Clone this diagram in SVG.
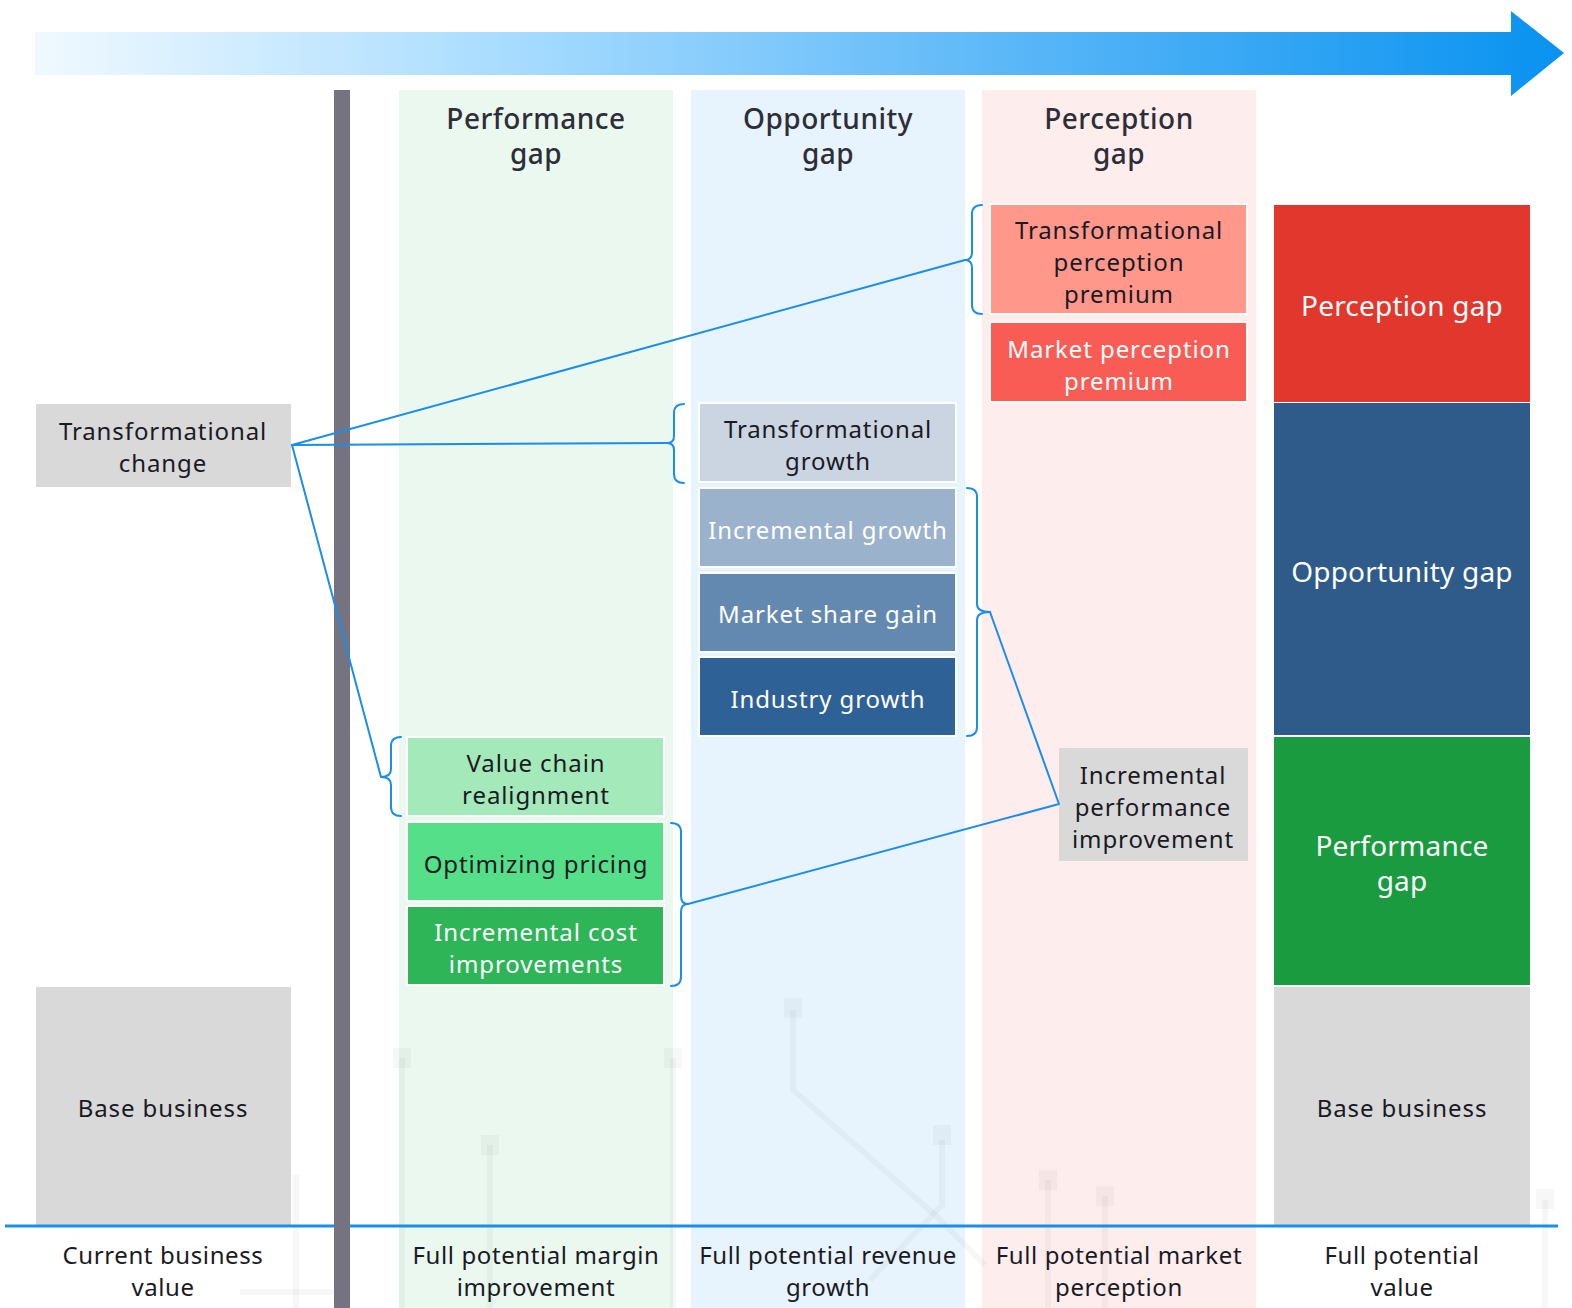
<svg xmlns="http://www.w3.org/2000/svg" width="1572" height="1308" viewBox="0 0 1572 1308">
  <defs>
    <linearGradient id="flowGrad" x1="35" y1="0" x2="1564" y2="0" gradientUnits="userSpaceOnUse">
      <stop offset="0" stop-color="#F0F9FF"/>
      <stop offset="0.3" stop-color="#AADDFF"/>
      <stop offset="0.62" stop-color="#5FB9F8"/>
      <stop offset="1" stop-color="#0892F0"/>
    </linearGradient>
    <style>
      text { font-family: "Noto Sans", "Liberation Sans", sans-serif; text-anchor: middle; letter-spacing: 0.9px; transform: translate(0px, 2px); }
      .t { font-size: 24px; fill: #1A1A24; }
      .w { font-size: 24px; fill: #FFFFFF; }
      .big { font-size: 28px; fill: #FFFFFF; letter-spacing: 0.2px; }
      .hdr { font-size: 28px; fill: #2E2E38; font-weight: 500; letter-spacing: 0.5px; }
      .lbl { font-size: 24px; fill: #1A1A24; letter-spacing: 0.6px; }
      .box { stroke: #FFFFFF; stroke-width: 2; }
      .conn { fill: none; stroke: #1A8EE8; stroke-width: 2; stroke-linejoin: round; stroke-linecap: round; }
      .trace { fill: none; stroke: #000000; stroke-opacity: 0.03; stroke-width: 6; }
      .pad { fill: #000000; fill-opacity: 0.03; }
    </style>
  </defs>

  <rect x="0" y="0" width="1572" height="1308" fill="#FFFFFF"/>

  <!-- column bands -->
  <g id="bands">
    <rect x="399" y="90" width="274" height="1218" fill="#EAF8EF"/>
    <rect x="691" y="90" width="274" height="1218" fill="#E7F3FD"/>
    <rect x="982" y="90" width="274" height="1218" fill="#FDEDED"/>
  </g>

  <!-- faint circuit traces in the lower background -->
  <g id="traces">
    <path class="trace" d="M296,1308 V1175"/>
    <path class="trace" d="M402,1308 V1058"/>
    <rect class="pad" x="393" y="1048" width="18" height="20"/>
    <path class="trace" d="M490,1308 V1145"/>
    <rect class="pad" x="481" y="1135" width="18" height="20"/>
    <path class="trace" d="M673,1308 V1058"/>
    <rect class="pad" x="664" y="1048" width="18" height="20"/>
    <path class="trace" d="M793,1010 V1090 L935,1215 L985,1265"/>
    <rect class="pad" x="784" y="998" width="18" height="20"/>
    <path class="trace" d="M942,1140 V1205 L870,1280"/>
    <rect class="pad" x="933" y="1125" width="18" height="20"/>
    <path class="trace" d="M1048,1308 V1180"/>
    <rect class="pad" x="1039" y="1170" width="18" height="20"/>
    <path class="trace" d="M1105,1308 V1196"/>
    <rect class="pad" x="1096" y="1186" width="18" height="20"/>
    <path class="trace" d="M1545,1308 V1200"/>
    <rect class="pad" x="1536" y="1189" width="18" height="20"/>
    <path class="trace" d="M240,1292 H334"/>
  </g>

  <!-- direction arrow -->
  <g id="flow-arrow">
    <path d="M35,32 H1511 V11 L1564,53 L1511,96 V75 H35 Z" fill="url(#flowGrad)"/>
  </g>

  <!-- divider after the current state -->
  <rect id="divider" x="334" y="90" width="16" height="1218" fill="#74737F"/>

  <!-- column headings -->
  <g id="headings">
    <text class="hdr" x="536" y="127">Performance</text>
    <text class="hdr" x="536" y="162">gap</text>
    <text class="hdr" x="828" y="127">Opportunity</text>
    <text class="hdr" x="828" y="162">gap</text>
    <text class="hdr" x="1119" y="127">Perception</text>
    <text class="hdr" x="1119" y="162">gap</text>
  </g>

  <!-- current state -->
  <g id="transformational-change">
    <rect x="36" y="404" width="255" height="83" fill="#D9D9D9"/>
    <text class="t" x="163" y="438">Transformational</text>
    <text class="t" x="163" y="470">change</text>
  </g>
  <g id="base-business-current">
    <rect x="36" y="987" width="255" height="239" fill="#D9D9D9"/>
    <text class="t" x="163" y="1115">Base business</text>
  </g>

  <!-- performance gap items -->
  <g id="value-chain">
    <rect class="box" x="407" y="737" width="257" height="79" fill="#A4E9B9"/>
    <text class="t" x="536" y="770">Value chain</text>
    <text class="t" x="536" y="802">realignment</text>
  </g>
  <g id="optimizing-pricing">
    <rect class="box" x="407" y="822" width="257" height="79" fill="#56DF89"/>
    <text class="t" x="536" y="871">Optimizing pricing</text>
  </g>
  <g id="incremental-cost">
    <rect class="box" x="407" y="906" width="257" height="79" fill="#2DB557"/>
    <text class="w" x="536" y="939">Incremental cost</text>
    <text class="w" x="536" y="971">improvements</text>
  </g>

  <!-- opportunity gap items -->
  <g id="transformational-growth">
    <rect class="box" x="699" y="403" width="257" height="79" fill="#CAD5E1"/>
    <text class="t" x="828" y="436">Transformational</text>
    <text class="t" x="828" y="468">growth</text>
  </g>
  <g id="incremental-growth">
    <rect class="box" x="699" y="488" width="257" height="79" fill="#9AB2CC"/>
    <text class="w" x="828" y="537">Incremental growth</text>
  </g>
  <g id="market-share-gain">
    <rect class="box" x="699" y="573" width="257" height="79" fill="#6389B0"/>
    <text class="w" x="828" y="621">Market share gain</text>
  </g>
  <g id="industry-growth">
    <rect class="box" x="699" y="657" width="257" height="79" fill="#2E6195"/>
    <text class="w" x="828" y="706">Industry growth</text>
  </g>

  <!-- perception gap items -->
  <g id="transformational-perception">
    <rect class="box" x="990" y="204" width="257" height="110" fill="#FF978A"/>
    <text class="t" x="1119" y="237">Transformational</text>
    <text class="t" x="1119" y="269">perception</text>
    <text class="t" x="1119" y="301">premium</text>
  </g>
  <g id="market-perception">
    <rect class="box" x="990" y="322" width="257" height="80" fill="#F95C55"/>
    <text class="w" x="1119" y="356">Market perception</text>
    <text class="w" x="1119" y="388">premium</text>
  </g>
  <g id="incremental-performance">
    <rect x="1059" y="748" width="189" height="113" fill="#D9D9D9"/>
    <text class="t" x="1153" y="782">Incremental</text>
    <text class="t" x="1153" y="814">performance</text>
    <text class="t" x="1153" y="846">improvement</text>
  </g>

  <!-- full potential stack -->
  <g id="stack-perception">
    <rect x="1274" y="205" width="256" height="197" fill="#E1372D"/>
    <text class="big" x="1402" y="314">Perception gap</text>
  </g>
  <g id="stack-opportunity">
    <rect x="1274" y="403" width="256" height="332" fill="#2E5B89"/>
    <text class="big" x="1402" y="580">Opportunity gap</text>
  </g>
  <g id="stack-performance">
    <rect x="1274" y="737" width="256" height="248" fill="#1A9B40"/>
    <text class="big" x="1402" y="854">Performance</text>
    <text class="big" x="1402" y="889">gap</text>
  </g>
  <g id="stack-base">
    <rect x="1274" y="987" width="256" height="239" fill="#D9D9D9"/>
    <text class="t" x="1402" y="1115">Base business</text>
  </g>

  <!-- braces and connecting lines -->
  <g id="connectors">
    <path class="conn" d="M982,205 Q972,205 972,214 L972,252 Q972,260 965,260 Q972,260 972,268 L972,305 Q972,314 982,314"/>
    <path class="conn" d="M684,404 Q674,404 674,413 L674,436 Q674,443 667,443 Q674,443 674,450 L674,474 Q674,483 684,483"/>
    <path class="conn" d="M401,737 Q391,737 391,746 L391,769 Q391,777 381,777 Q391,777 391,785 L391,807 Q391,816 401,816"/>
    <path class="conn" d="M967,488 Q977,488 977,497 L977,604 Q977,612 990,612 Q977,612 977,620 L977,727 Q977,736 967,736"/>
    <path class="conn" d="M671,823 Q681,823 681,832 L681,896 Q681,904 688,904 Q681,904 681,912 L681,977 Q681,986 671,986"/>
    <path class="conn" d="M965,260 L292,445 L667,443"/>
    <path class="conn" d="M292,445 L381,777"/>
    <path class="conn" d="M990,612 L1059,804 L688,904"/>
  </g>

  <!-- baseline -->
  <line id="baseline" x1="5" y1="1226" x2="1558" y2="1226" stroke="#1A8EE8" stroke-width="3"/>
  <rect x="334" y="1224" width="16" height="4" fill="#74737F"/>

  <!-- bottom labels -->
  <g id="bottom-labels">
    <text class="lbl" x="163" y="1262">Current business</text>
    <text class="lbl" x="163" y="1294">value</text>
    <text class="lbl" x="536" y="1262">Full potential margin</text>
    <text class="lbl" x="536" y="1294">improvement</text>
    <text class="lbl" x="828" y="1262">Full potential revenue</text>
    <text class="lbl" x="828" y="1294">growth</text>
    <text class="lbl" x="1119" y="1262">Full potential market</text>
    <text class="lbl" x="1119" y="1294">perception</text>
    <text class="lbl" x="1402" y="1262">Full potential</text>
    <text class="lbl" x="1402" y="1294">value</text>
  </g>
</svg>
